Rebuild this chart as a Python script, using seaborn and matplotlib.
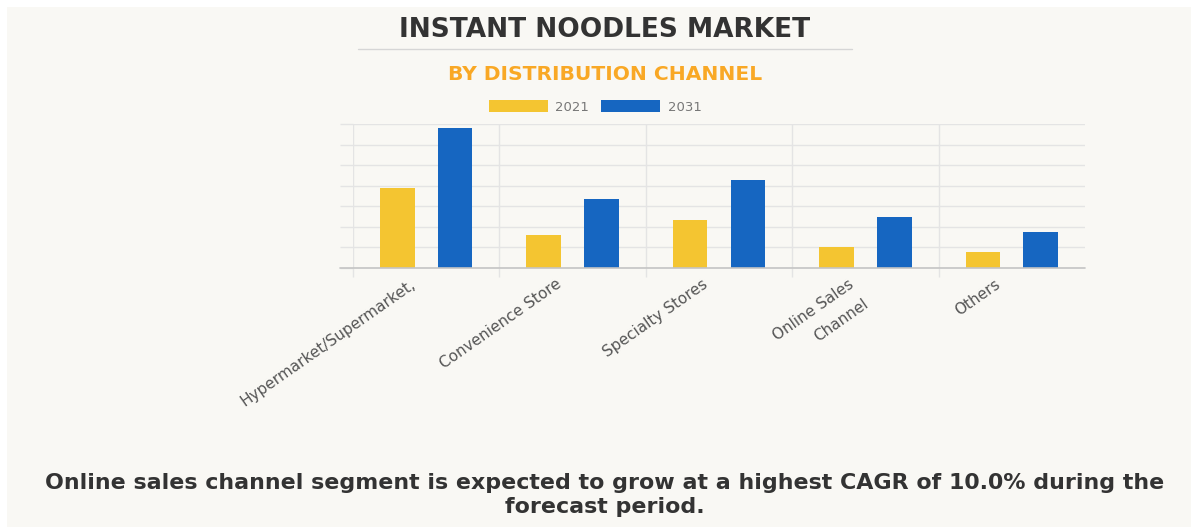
import matplotlib
matplotlib.use("Agg")
import matplotlib.pyplot as plt
from matplotlib.lines import Line2D
from matplotlib.patches import Rectangle
import matplotlib.transforms as mtransforms
import pandas as pd
import seaborn as sns

# Market size by distribution channel (relative units, one unit per gridline)
channels = ["Hypermarket/Supermarket,", "Convenience Store", "Specialty Stores",
            "Online Sales\nChannel", "Others"]
years = ["2021", "2031"]
values_2021 = [3.87, 1.60, 2.35, 1.00, 0.79]
values_2031 = [6.79, 3.35, 4.28, 2.48, 1.76]

title = "INSTANT NOODLES MARKET"
subtitle = "BY DISTRIBUTION CHANNEL"
footnote = ("Online sales channel segment is expected to grow at a highest CAGR of 10.0% during the\n"
            "forecast period.")

df = pd.DataFrame({
    "channel": channels * 2,
    "year": [years[0]] * len(channels) + [years[1]] * len(channels),
    "value": values_2021 + values_2031,
})

W, H = 1191, 527
BG = "#f9f8f4"
GRID = "#e4e4e4"
palette = {"2021": "#f4c531", "2031": "#1666c1"}

sns.set_theme(style="white")
plt.rcParams["font.family"] = ["DejaVu Sans"]

fig = plt.figure(figsize=(W / 100, H / 100), dpi=100, facecolor="white")
fig.add_artist(Rectangle((7 / W, 0), 1 - 7 / W, 1 - 7 / H, transform=fig.transFigure,
                         facecolor=BG, edgecolor="none", zorder=-10))

x0, x1, ytop, ybot = 353, 1085, 124, 268
ax = fig.add_axes([x0 / W, 1 - ybot / H, (x1 - x0) / W, (ybot - ytop) / H])
ax.set_facecolor(BG)
ax.patch.set_alpha(0)

sns.barplot(data=df, x="channel", y="value", hue="year", palette=palette,
            width=0.79, gap=0.4, linewidth=0, saturation=1, ax=ax, zorder=3)

handles, labels = ax.get_legend_handles_labels()
if ax.get_legend() is not None:
    ax.get_legend().remove()

ax.set_xlim(-0.5, 4.5)
ax.set_ylim(0, 7)
ax.set_yticks(range(0, 8))
ax.set_yticklabels([])
ax.set_xlabel("")
ax.set_ylabel("")
for s in ax.spines.values():
    s.set_visible(False)

ax.grid(axis="y", color=GRID, linewidth=1, zorder=0)
ax.tick_params(axis="y", which="major", left=True, length=9.4, width=1, color=GRID, direction="out")

ax.set_xticks([-0.5, 0.5, 1.5, 2.5, 3.5], minor=True)
ax.grid(axis="x", which="minor", color=GRID, linewidth=1, zorder=0)
ax.grid(axis="x", which="major", visible=False)
ax.tick_params(axis="x", which="minor", bottom=True, length=6.5, width=1, color=GRID, direction="out")
ax.tick_params(axis="x", which="major", bottom=False, pad=0)

ax.axhline(0, xmin=-13 / (x1 - x0), xmax=1, color="#c4c4c4", linewidth=1.2, clip_on=False, zorder=4)

ax.set_xticks(range(len(channels)))
ax.set_xticklabels(channels, rotation=35, ha="right", va="top", rotation_mode="anchor",
                   fontsize=11, color="#555555", multialignment="right")
shift = mtransforms.ScaledTranslation(-17 / 100, 0 / 100, fig.dpi_scale_trans)
for lbl in ax.get_xticklabels():
    lbl.set_transform(lbl.get_transform() + shift)
    if "\n" in lbl.get_text():
        lbl.set_linespacing(1.75)

fig.text(605 / W, 1 - 30 / H, title, ha="center", va="center", fontsize=19,
         fontweight="bold", color="#333333")
fig.add_artist(Line2D([358 / W, 852 / W], [1 - 49 / H, 1 - 49 / H], transform=fig.transFigure,
                      color="#d6d6d6", linewidth=1))
fig.text(605 / W, 1 - 74 / H, subtitle, ha="center", va="center", fontsize=14.6,
         fontweight="bold", color="#f9a825")

fig.legend(handles, labels, loc="center", bbox_to_anchor=(595 / W, 1 - 107 / H), ncol=2,
           frameon=False, fontsize=9.5, labelcolor="#777777", handlelength=4.5, handleheight=1.05,
           handletextpad=0.55, columnspacing=0.9)

fig.text(605 / W, 1 - 495 / H, footnote, ha="center", va="center", fontsize=15.9,
         fontweight="bold", color="#333333", linespacing=1.2)

fig.savefig("out.png", dpi=100, facecolor="white")
